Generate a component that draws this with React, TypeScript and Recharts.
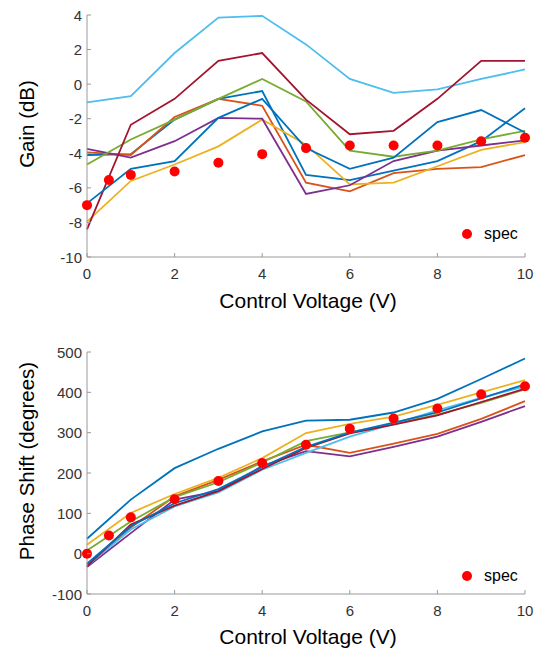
import React from "react";
import { ComposedChart, Line, Scatter, XAxis, YAxis, Legend, Label } from "recharts";

// control voltage steps for the measured curves
const VOLTS = [0, 1, 2, 3, 4, 5, 6, 7, 8, 9, 10];
// spec points
const SPEC_VOLTS = [0, 0.5, 1, 2, 3, 4, 5, 6, 7, 8, 9, 10];
const SPEC_GAIN = [-7.0, -5.55, -5.25, -5.05, -4.55, -4.05, -3.7, -3.55, -3.55, -3.55, -3.3, -3.1];
const SPEC_PHASE = [0, 45, 90, 135, 180, 225, 270, 310, 335, 360, 395, 415];

// gain (dB), one array per unit
const GAIN_1 = [-4.1, -4.05, -2.05, -0.85, -0.4, -5.25, -5.55, -5.0, -4.45, -3.3, -1.4];
const GAIN_2 = [-3.95, -4.1, -1.9, -0.85, -1.25, -5.7, -6.2, -5.15, -4.9, -4.8, -4.1];
const GAIN_3 = [-7.95, -5.6, -4.65, -3.6, -2.05, -3.5, -5.8, -5.7, -4.75, -3.8, -3.35];
const GAIN_4 = [-3.75, -4.25, -3.3, -1.95, -2.0, -6.35, -5.85, -4.45, -3.85, -3.55, -3.25];
const GAIN_5 = [-4.65, -3.2, -2.05, -0.85, 0.3, -1.0, -3.85, -4.2, -3.85, -3.2, -2.7];
const GAIN_6 = [-1.05, -0.7, 1.8, 3.85, 3.95, 2.3, 0.3, -0.5, -0.3, 0.3, 0.85];
const GAIN_7 = [-8.4, -2.35, -0.85, 1.35, 1.8, -0.9, -2.9, -2.7, -0.85, 1.35, 1.35];
const GAIN_8 = [-6.9, -4.9, -4.45, -1.95, -0.85, -3.7, -4.9, -4.25, -2.2, -1.5, -2.8];

// phase shift (degrees)
const PHASE_1 = [37, 134, 212, 260, 303, 330, 332, 350, 384, 433, 484];
const PHASE_2 = [-27, 65, 142, 183, 229, 270, 250, 273, 297, 334, 378];
const PHASE_3 = [22, 101, 148, 188, 237, 299, 322, 340, 369, 400, 430];
const PHASE_4 = [-33, 51, 134, 155, 217, 254, 241, 265, 290, 327, 366];
const PHASE_5 = [8, 80, 140, 177, 226, 279, 301, 322, 345, 374, 407];
const PHASE_6 = [-30, 60, 117, 152, 208, 250, 290, 322, 355, 386, 415];
const PHASE_7 = [-31, 72, 119, 155, 210, 262, 298, 320, 343, 376, 409];
const PHASE_8 = [-25, 68, 125, 160, 215, 265, 300, 325, 350, 385, 420];

const X_TICKS = [0, 2, 4, 6, 8, 10];
const GAIN_TICKS = [-10, -8, -6, -4, -2, 0, 2, 4];
const PHASE_TICKS = [-100, 0, 100, 200, 300, 400, 500];

const COLORS = ["#0072BD", "#D95319", "#EDB120", "#7E2F8E", "#77AC30", "#4DBEEE", "#A2142F", "#0072BD"];
const KEYS = ["s1", "s2", "s3", "s4", "s5", "s6", "s7", "s8"];

const FONT = '"Liberation Sans", Arial, Helvetica, sans-serif';
const AXIS_GRAY = "#9a9a9a";

function buildRows(series: number[][]) {
    return VOLTS.map((v, i) => {
        const row: any = { x: v };
        series.forEach((s, k) => (row[KEYS[k]] = s[i]));
        return row;
    });
}

const gainRows = buildRows([GAIN_1, GAIN_2, GAIN_3, GAIN_4, GAIN_5, GAIN_6, GAIN_7, GAIN_8]);
const phaseRows = buildRows([PHASE_1, PHASE_2, PHASE_3, PHASE_4, PHASE_5, PHASE_6, PHASE_7, PHASE_8]);
const gainSpec = SPEC_VOLTS.map((v, i) => ({ x: v, spec: SPEC_GAIN[i] }));
const phaseSpec = SPEC_VOLTS.map((v, i) => ({ x: v, spec: SPEC_PHASE[i] }));

function XTick({ x, y, payload }: any) {
    return (
        <g>
            <line x1={x} x2={x} y1={y} y2={y - 4} stroke={AXIS_GRAY} strokeWidth={1} />
            <text x={x} y={y + 16} textAnchor="middle" dominantBaseline="central" fontSize={15} fill="#333" fontFamily={FONT}>
                {payload.value}
            </text>
        </g>
    );
}

function YTick({ x, y, payload }: any) {
    return (
        <g>
            <line x1={x} x2={x + 4} y1={y} y2={y} stroke={AXIS_GRAY} strokeWidth={1} />
            <text x={x - 5} y={y} textAnchor="end" dominantBaseline="central" fontSize={15} fill="#333" fontFamily={FONT}>
                {payload.value}
            </text>
        </g>
    );
}

// axis titles: "drop" is the distance below the axis line
function XTitle({ viewBox, text, drop }: any) {
    const cx = viewBox.x + viewBox.width / 2;
    return (
        <text x={cx + 2} y={viewBox.y + drop} textAnchor="middle" dominantBaseline="central" fontSize={21} fill="#000" fontFamily={FONT}>
            {text}
        </text>
    );
}

function YTitle({ viewBox, text }: any) {
    const cy = viewBox.y + viewBox.height / 2 - 12;
    return (
        <text x={26} y={cy} transform={`rotate(-90 26 ${cy})`} textAnchor="middle" dominantBaseline="central" fontSize={20.5} fill="#000" fontFamily={FONT}>
            {text}
        </text>
    );
}

function SpecLegend() {
    return (
        <div style={{ display: "flex", alignItems: "center", height: 20, fontFamily: FONT }}>
            <svg width={10} height={10}>
                <circle cx={5} cy={5} r={5} fill="#ff0000" />
            </svg>
            <span style={{ marginLeft: 12, fontSize: 16, color: "#000" }}>spec</span>
        </div>
    );
}

function Panel({ rows, spec, height, top, ticks, domain, yTitle, titleDrop, legendTop }: any) {
    return (
        <ComposedChart width={541} height={height} data={rows} margin={{ top, right: 16, bottom: 0, left: 0 }}>
            <XAxis
                dataKey="x"
                type="number"
                domain={[0, 10]}
                ticks={X_TICKS}
                height={height - top - 242}
                tickSize={0}
                tickMargin={0}
                tickLine={false}
                axisLine={{ stroke: AXIS_GRAY }}
                tick={<XTick />}
                label={<Label content={<XTitle text="Control Voltage (V)" drop={titleDrop} />} />}
            />
            <YAxis
                type="number"
                domain={domain}
                ticks={ticks}
                width={87}
                tickSize={0}
                tickMargin={0}
                tickLine={false}
                axisLine={{ stroke: AXIS_GRAY }}
                tick={<YTick />}
                label={<Label content={<YTitle text={yTitle} />} />}
            />
            {KEYS.map((k, i) => (
                <Line key={k} dataKey={k} stroke={COLORS[i]} strokeWidth={1.8} dot={false} isAnimationActive={false} legendType="none" />
            ))}
            <Scatter
                data={spec}
                dataKey="spec"
                name="spec"
                isAnimationActive={false}
                shape={(p: any) => <circle cx={p.cx} cy={p.cy} r={5} fill="#ff0000" />}
            />
            <Legend
                layout="vertical"
                align="center"
                verticalAlign="middle"
                content={<SpecLegend />}
                wrapperStyle={{ left: 462, top: legendTop, width: 70 }}
            />
        </ComposedChart>
    );
}

export default function App() {
    return (
        <div style={{ position: "absolute", left: 0, top: 0, width: 541, height: 651, background: "#fff", fontFamily: FONT }}>
            <Panel
                rows={gainRows}
                spec={gainSpec}
                height={320}
                top={15}
                ticks={GAIN_TICKS}
                domain={[-10, 4]}
                yTitle="Gain (dB)"
                titleDrop={43}
                legendTop={224}
            />
            <Panel
                rows={phaseRows}
                spec={phaseSpec}
                height={331}
                top={32}
                ticks={PHASE_TICKS}
                domain={[-100, 500]}
                yTitle="Phase Shift (degrees)"
                titleDrop={42}
                legendTop={246}
            />
        </div>
    );
}
